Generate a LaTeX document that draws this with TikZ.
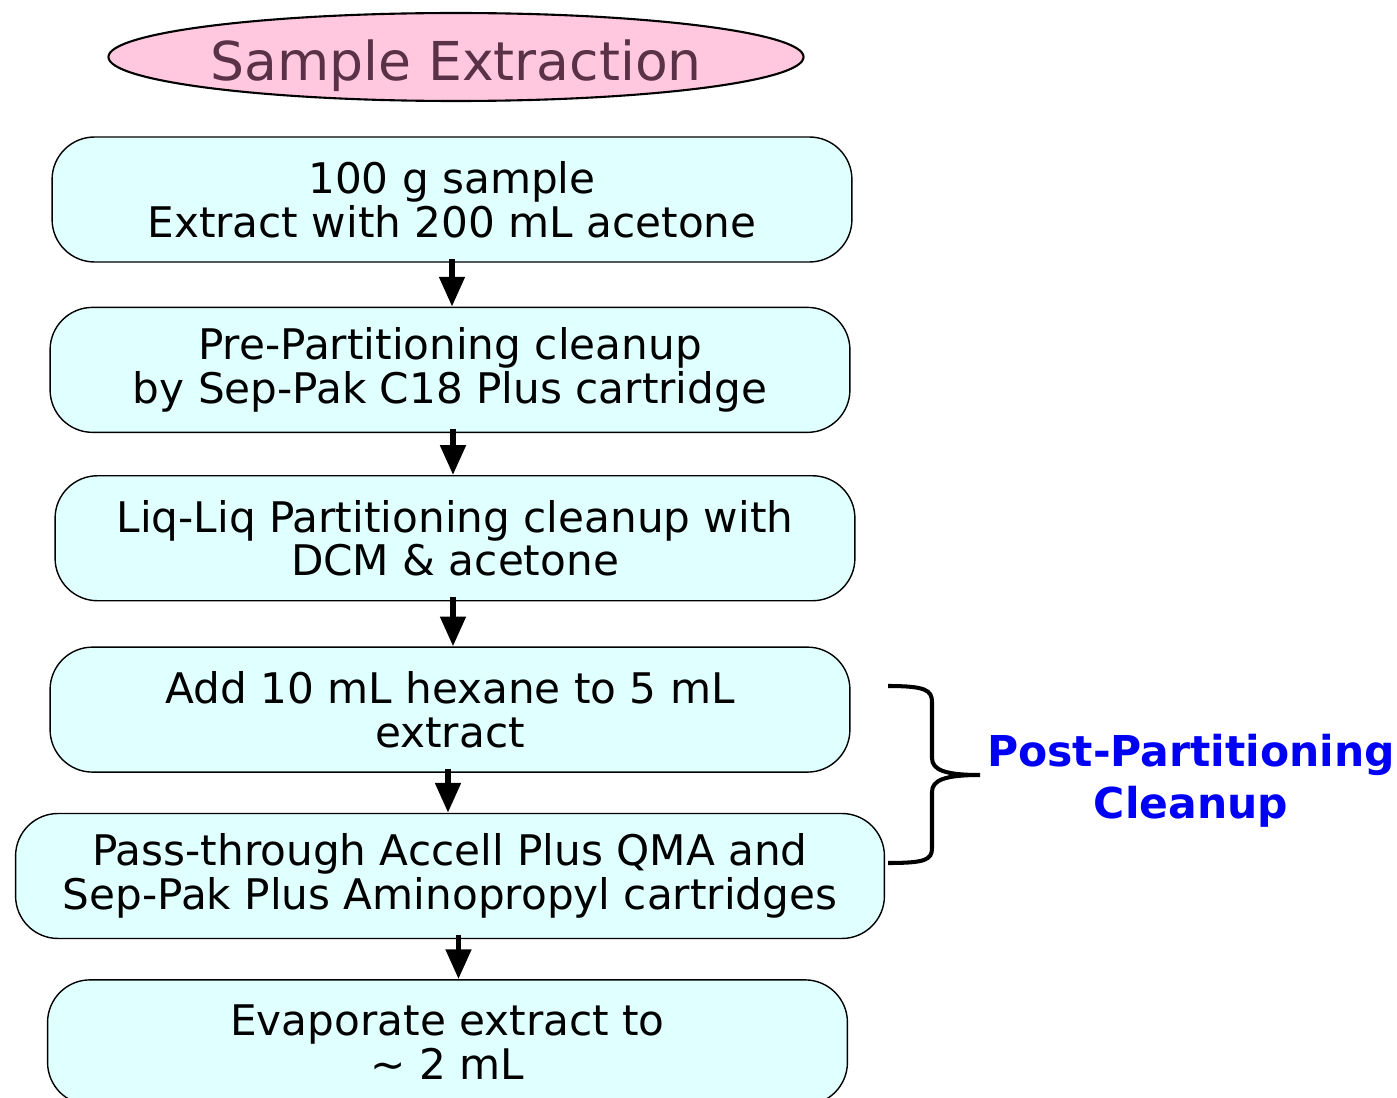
\documentclass[tikz,border=0pt]{standalone}
\usepackage{fontspec}
\setmainfont{DejaVu Sans}
\usetikzlibrary{arrows.meta,positioning,shapes.geometric}
\definecolor{boxfill}{RGB}{224,255,255}
\definecolor{ovalfill}{RGB}{255,200,222}
\definecolor{ovaltext}{RGB}{90,50,72}
\definecolor{notecol}{RGB}{0,0,245}

\begin{document}
\begin{tikzpicture}[
 x=0.02cm,y=-0.02cm,
 box/.style={draw,rounded corners=0.85cm,fill=boxfill,align=center,minimum height=2.5cm,minimum width=16cm,line width=0.8pt,font=\fontsize{24}{25}\selectfont},
 oval/.style={draw,ellipse,fill=ovalfill,line width=1.2pt,minimum width=13.86cm,minimum height=1.76cm,inner sep=0pt,text=ovaltext,font=\fontsize{30.5}{32}\selectfont},
 arr/.style={-{Triangle[length=17pt,width=14pt]},line width=3.4pt}
]
\useasboundingbox (0,0) rectangle (1397,1098);
\node[oval] (title) at (456,57) {\raisebox{-0.18cm}[\height][\depth]{Sample Extraction}};
\node[box] (extract) at (452,199.5) {100 g sample\\Extract with 200 mL acetone};
\node[box,below=0.88cm of extract,xshift=-0.04cm] (prepart) {Pre-Partitioning cleanup\\by Sep-Pak C18 Plus cartridge};
\node[box,below=0.84cm of prepart,xshift=0.1cm] (liqliq) {Liq-Liq Partitioning cleanup with\\DCM \& acetone};
\node[box,below=0.9cm of liqliq,xshift=-0.1cm] (hexane) {Add 10 mL hexane to 5 mL\\extract};
\node[box,below=0.8cm of hexane,minimum width=17.38cm] (passthru) {Pass-through Accell Plus QMA and\\Sep-Pak Plus Aminopropyl cartridges};
\node[box,below=0.8cm of passthru,xshift=-0.05cm] (evap) {Evaporate extract to\\\textasciitilde{} 2 mL};
\draw[arr] ([yshift=0.08cm]extract.south) -- (extract.south |- prepart.north);
\draw[arr] ([xshift=0.06cm,yshift=0.08cm]prepart.south) -- ([xshift=0.06cm]prepart.south |- liqliq.north);
\draw[arr] ([xshift=-0.04cm,yshift=0.08cm]liqliq.south) -- ([xshift=-0.04cm]liqliq.south |- hexane.north);
\draw[arr] ([xshift=-0.04cm,yshift=0.08cm]hexane.south) -- ([xshift=-0.04cm]hexane.south |- passthru.north);
\draw[arr] ([xshift=0.17cm,yshift=0.08cm]passthru.south) -- ([xshift=0.17cm]passthru.south |- evap.north);
% brace for the post-partitioning steps
\coordinate (bt) at (888,686);
\coordinate (bm) at (980,775);
\coordinate (bb) at (888,863);
\draw[line width=2.3pt] (bt) .. controls (925,686) and (932,690) .. (932,702) -- (932,758)
  .. controls (932,770) and (945,775) .. (bm)
  .. controls (945,775) and (932,780) .. (932,792) -- (932,848)
  .. controls (932,860) and (925,863) .. (bb);
\node[align=center,text=notecol,font=\bfseries\fontsize{24.2}{29.5}\selectfont] (post) at (1191,781) {Post-Partitioning\\Cleanup};
\end{tikzpicture}
\end{document}
